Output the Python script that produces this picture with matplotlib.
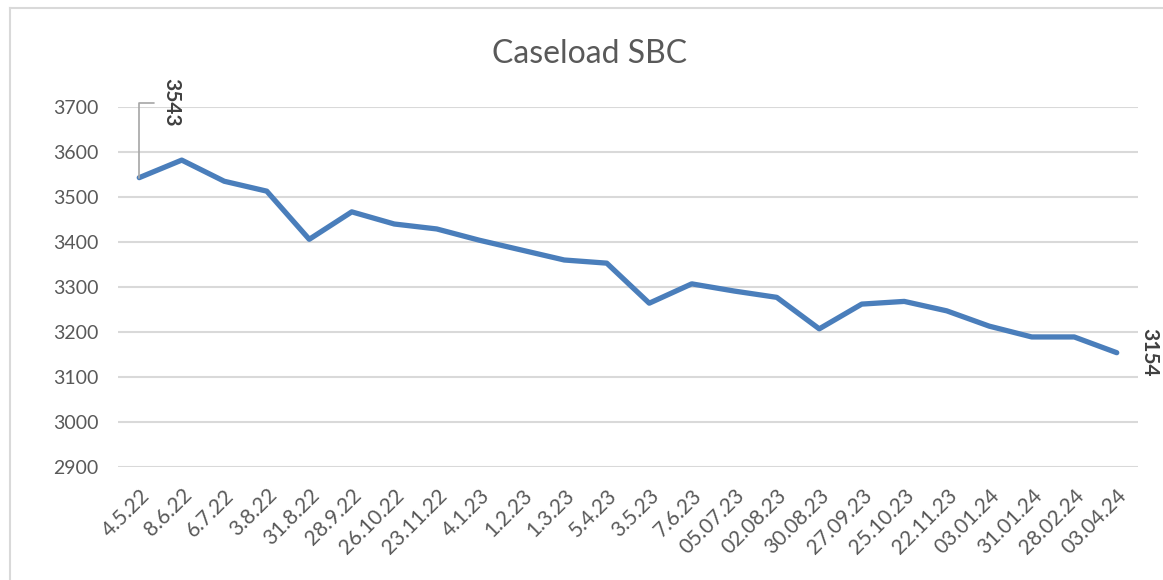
import matplotlib.pyplot as plt
from matplotlib.lines import Line2D

plt.rcParams['font.family'] = ['Lato', 'DejaVu Sans']

dates = ['4.5.22', '8.6.22', '6.7.22', '3.8.22', '31.8.22', '28.9.22', '26.10.22',
         '23.11.22', '4.1.23', '1.2.23', '1.3.23', '5.4.23', '3.5.23', '7.6.23',
         '05.07.23', '02.08.23', '30.08.23', '27.09.23', '25.10.23', '22.11.23',
         '03.01.24', '31.01.24', '28.02.24', '03.04.24']
caseload = [3543, 3582, 3535, 3513, 3406, 3467, 3440, 3429, 3404, 3382, 3360, 3353,
            3264, 3307, 3291, 3277, 3207, 3262, 3268, 3247, 3213, 3189, 3189, 3154]
y_ticks = [2900, 3000, 3100, 3200, 3300, 3400, 3500, 3600, 3700]

W, H = 1163, 580
fig = plt.figure(figsize=(W / 100, H / 100), dpi=100)
ax = fig.add_axes([118 / W, 1 - 467 / H, (1138 - 118) / W, (467 - 107) / H])

x = list(range(len(dates)))
ax.plot(x, caseload, color='#4A7EBB', linewidth=3.8, solid_capstyle='round',
        solid_joinstyle='round', zorder=3)

ax.set_xlim(-0.5, len(dates) - 0.5)
ax.set_ylim(2900, 3700)
ax.set_yticks(y_ticks)
ax.set_xticks(x)
ax.set_xticklabels(dates, rotation=45, ha='right', va='top', rotation_mode='anchor')
ax.grid(axis='y', color='#D9D9D9', linewidth=1.5)
ax.set_axisbelow(True)
for s in ax.spines.values():
    s.set_visible(False)
ax.tick_params(axis='y', length=0, pad=14, labelsize=14, labelcolor='#595959')
ax.tick_params(axis='x', length=0, pad=13, labelsize=15, labelcolor='#595959')

# data labels
ax.annotate(str(caseload[0]), (x[0], caseload[0]), xytext=(32, 75), textcoords='offset pixels',
            rotation=-90, ha='center', va='center', fontsize=15, fontweight='bold', color='#404040',
            arrowprops=dict(arrowstyle='-', color='#A6A6A6', lw=1.2,
                            connectionstyle='angle,angleA=0,angleB=90,rad=0', shrinkA=3, shrinkB=0))
ax.annotate(str(caseload[-1]), (x[-1], caseload[-1]), xytext=(33, 0), textcoords='offset pixels',
            rotation=-90, ha='center', va='center', fontsize=15, fontweight='bold', color='#404040')

fig.text(590 / W, 1 - 54 / H, 'Caseload SBC', ha='center', va='center', fontsize=23, color='#595959')

# chart border
fig.add_artist(Line2D([10 / W, 1], [1 - 8 / H, 1 - 8 / H], color='#D9D9D9', lw=1.5, transform=fig.transFigure))
fig.add_artist(Line2D([10 / W, 10 / W], [0, 1 - 8 / H], color='#D9D9D9', lw=1.5, transform=fig.transFigure))

fig.savefig('out.png', dpi=100)
